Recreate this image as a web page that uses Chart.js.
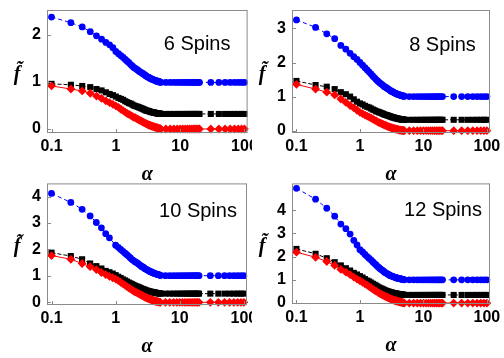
<!DOCTYPE html>
<html>
<head>
<meta charset="utf-8">
<script src="https://cdn.jsdelivr.net/npm/chart.js@4.4.1/dist/chart.umd.min.js"></script>
<style>
  body { margin: 0; background: #fff; }
  #wrap { position: relative; width: 504px; height: 358px; overflow: hidden; }
  canvas { position: absolute; }
</style>
</head>
<body>
<div id="wrap">
  <canvas id="c6" width="252" height="190" style="left:0;top:0"></canvas>
  <canvas id="c8" width="252" height="190" style="left:252px;top:0"></canvas>
  <canvas id="c10" width="252" height="179" style="left:0;top:179px"></canvas>
  <canvas id="c12" width="252" height="179" style="left:252px;top:179px"></canvas>
</div>
<script>
// alpha values (x) shared by all panels
const alpha = [0.1,0.2,0.3,0.4,0.5,0.6,0.7,0.8,0.9,
  1.0,1.1,1.2,1.3,1.4,1.5,1.6,1.7,1.8,1.9,
  2.0,2.1,2.2,2.3,2.4,2.5,2.6,2.7,2.8,2.9,
  3.0,3.1,3.2,3.3,3.4,3.5,3.6,3.7,3.8,3.9,
  4.0,4.1,4.2,4.3,4.4,4.5,4.6,4.7,4.8,4.9,5.0,
  6,7,8,9,10,11,12,13,14,15,16,17,18,19,20,
  30,40,50,60,70,80,90,100];

const xTicks = [0.1, 1, 10, 100];

// 6 spins
const blue6 = [2.38,2.26,2.17,2.07,1.98,1.91,1.84,1.79,1.73,
  1.65,1.60,1.56,1.52,1.48,1.44,1.41,1.37,1.34,1.31,
  1.29,1.27,1.25,1.23,1.21,1.20,1.18,1.17,1.15,1.14,
  1.12,1.11,1.10,1.09,1.08,1.07,1.06,1.06,1.05,1.04,
  1.04,1.03,1.02,1.02,1.02,1.01,1.01,1.00,1.00,1.00,0.99,
  0.99,0.99,0.99,0.99,0.99,0.99,0.99,0.99,0.99,0.99,0.99,0.99,0.99,0.99,0.99,
  0.99,0.99,0.99,0.99,0.99,0.99,0.99,0.99];
const black6 = [0.96,0.94,0.915,0.89,0.85,0.82,0.78,0.745,0.72,
  0.69,0.66,0.64,0.62,0.59,0.57,0.55,0.54,0.52,0.50,
  0.49,0.48,0.47,0.46,0.45,0.44,0.43,0.42,0.41,0.40,
  0.39,0.39,0.38,0.38,0.37,0.36,0.36,0.36,0.35,0.35,
  0.35,0.34,0.34,0.34,0.33,0.33,0.33,0.33,0.33,0.32,0.32,
  0.32,0.32,0.32,0.32,0.32,0.32,0.32,0.32,0.32,0.32,0.32,0.32,0.32,0.32,0.32,
  0.32,0.32,0.32,0.32,0.32,0.32,0.32,0.32];
const red6 = [0.915,0.85,0.81,0.76,0.70,0.65,0.60,0.56,0.525,
  0.49,0.46,0.42,0.39,0.36,0.33,0.31,0.29,0.27,0.25,
  0.24,0.22,0.21,0.19,0.18,0.17,0.15,0.14,0.13,0.12,
  0.11,0.10,0.09,0.08,0.08,0.07,0.06,0.06,0.05,0.05,
  0.04,0.04,0.03,0.03,0.03,0.02,0.02,0.01,0.01,0.01,0.00,
  0,0,0,0,0,0,0,0,0,0,0,0,0,0,0,
  0,0,0,0,0,0,0,0];

// 8 spins
const blue8 = [3.25,3.03,2.84,2.70,2.50,2.39,2.27,2.17,2.09,
  2.00,1.92,1.85,1.78,1.72,1.66,1.60,1.55,1.50,1.46,
  1.42,1.39,1.36,1.33,1.30,1.28,1.26,1.24,1.22,1.20,
  1.18,1.16,1.15,1.14,1.12,1.11,1.10,1.09,1.08,1.07,
  1.06,1.06,1.05,1.04,1.04,1.03,1.03,1.02,1.02,1.01,1.01,
  1.00,1.00,1.00,1.00,1.00,1.00,1.00,1.00,1.00,1.00,1.00,1.00,1.00,1.00,1.00,
  1.00,1.00,1.00,1.00,1.00,1.00,1.00,1.00];
const black8 = [1.46,1.34,1.29,1.22,1.13,1.07,1.00,0.92,0.85,
  0.80,0.77,0.73,0.70,0.68,0.65,0.62,0.60,0.57,0.56,
  0.54,0.53,0.51,0.50,0.48,0.47,0.46,0.45,0.44,0.43,
  0.42,0.41,0.40,0.39,0.39,0.38,0.37,0.37,0.36,0.36,
  0.35,0.35,0.34,0.34,0.34,0.33,0.33,0.33,0.33,0.32,0.32,
  0.32,0.32,0.32,0.32,0.32,0.32,0.32,0.32,0.32,0.32,0.32,0.32,0.32,0.32,0.32,
  0.32,0.32,0.32,0.32,0.32,0.32,0.32,0.32];
const red8 = [1.36,1.22,1.13,1.05,0.93,0.83,0.74,0.67,0.60,
  0.54,0.50,0.46,0.43,0.40,0.37,0.34,0.31,0.29,0.26,
  0.24,0.22,0.21,0.19,0.17,0.16,0.15,0.13,0.12,0.11,
  0.10,0.09,0.08,0.07,0.07,0.06,0.05,0.05,0.04,0.04,
  0.03,0.03,0.02,0.02,0.02,0.01,0.01,0.01,0.01,0.00,0.00,
  0,0,0,0,0,0,0,0,0,0,0,0,0,0,0,
  0,0,0,0,0,0,0,0];

// 10 spins
const blue10 = [4.12,3.78,3.52,3.27,3.02,2.82,2.60,2.44,null,
  2.16,2.08,2.00,1.93,1.86,1.80,1.74,1.68,1.62,1.58,
  1.54,1.51,1.48,1.44,1.41,1.37,1.35,1.33,1.29,1.27,
  1.25,1.23,1.21,1.19,1.18,1.16,1.15,1.13,1.12,1.11,
  1.10,1.09,1.08,1.07,1.07,1.05,1.05,1.04,1.04,1.03,1.02,
  1.01,1.01,1.01,1.01,1.01,1.01,1.01,1.01,1.01,1.01,1.01,1.01,1.01,1.01,1.01,
  1.01,1.01,1.01,1.01,1.01,1.01,1.01,1.01];
const black10 = [1.88,1.75,1.63,1.47,1.37,1.28,1.19,1.14,1.09,
  1.03,0.97,0.92,0.87,0.83,0.79,0.75,0.72,0.69,0.66,
  0.63,0.61,0.59,0.57,0.55,0.53,0.51,0.50,0.48,0.47,
  0.45,0.44,0.43,0.42,0.41,0.40,0.40,0.39,0.38,0.38,
  0.37,0.37,0.36,0.36,0.35,0.35,0.35,0.34,0.34,0.34,0.33,
  0.33,0.33,0.33,0.33,0.33,0.33,0.33,0.33,0.33,0.33,0.33,0.33,0.33,0.33,0.33,
  0.33,0.33,0.33,0.33,0.33,0.33,0.33,0.33];
const red10 = [1.77,1.63,1.47,1.35,1.24,1.13,1.05,0.98,0.93,
  0.88,0.82,0.76,0.70,0.65,0.60,0.55,0.51,0.47,0.43,
  0.40,0.38,0.35,0.33,0.30,0.27,0.26,0.24,0.21,0.19,
  0.18,0.16,0.15,0.13,0.12,0.11,0.10,0.09,0.08,0.07,
  0.06,0.05,0.04,0.04,0.04,0.03,0.02,0.02,0.01,0.01,0.00,
  0,0,0,0,0,0,0,0,0,0,0,0,0,0,0,
  0,0,0,0,0,0,0,0];

// 12 spins
const blue12 = [4.94,4.47,4.08,3.74,3.40,3.20,2.97,2.70,2.50,
  2.30,2.20,2.09,2.00,1.92,1.85,1.77,1.70,1.64,1.57,
  1.52,1.47,1.43,1.39,1.35,1.31,1.29,1.26,1.23,1.21,
  1.18,1.17,1.16,1.14,1.13,1.12,1.10,1.09,1.08,1.07,
  1.07,1.06,1.05,1.05,1.04,1.03,1.03,1.02,1.01,1.01,1.00,
  1.00,1.00,1.00,1.00,1.00,1.00,1.00,1.00,1.00,1.00,1.00,1.00,1.00,1.00,1.00,
  1.00,1.00,1.00,1.00,1.00,1.00,1.00,1.00];
const black12 = [2.33,2.12,1.93,1.76,1.62,1.50,1.40,1.30,1.23,
  1.16,1.10,1.03,0.97,0.93,0.88,0.83,0.79,0.75,0.71,
  0.67,0.64,0.62,0.59,0.57,0.54,0.53,0.51,0.50,0.48,
  0.46,0.46,0.45,0.44,0.43,0.42,0.42,0.41,0.40,0.40,
  0.39,0.39,0.38,0.38,0.37,0.37,0.37,0.36,0.36,0.35,0.35,
  0.35,0.35,0.35,0.35,0.35,0.35,0.35,0.35,0.35,0.35,0.35,0.35,0.35,0.35,0.35,
  0.35,0.35,0.35,0.35,0.35,0.35,0.35,0.35];
const red12 = [2.19,1.97,1.79,1.62,1.45,1.33,1.22,1.12,1.03,
  0.96,0.89,0.83,0.77,0.71,0.65,0.60,0.55,0.51,0.47,
  0.43,0.40,0.37,0.34,0.32,0.29,0.27,0.25,0.23,0.21,
  0.19,0.17,0.16,0.15,0.13,0.12,0.11,0.10,0.09,0.08,
  0.07,0.06,0.05,0.05,0.04,0.03,0.03,0.02,0.02,0.01,0.00,
  0,0,0,0,0,0,0,0,0,0,0,0,0,0,0,
  0,0,0,0,0,0,0,0];

Chart.defaults.font.family = '"Liberation Sans", Arial, sans-serif';
Chart.defaults.color = '#000';

// frame, inward ticks, panel label and axis symbols
const panelDecor = {
  id: 'panelDecor',
  afterDraw(chart, args, opts) {
    const ctx = chart.ctx, a = chart.chartArea;
    const xs = chart.scales.x, ys = chart.scales.y;
    ctx.save();
    ctx.strokeStyle = '#8a8a8a';
    ctx.lineWidth = 1;
    ctx.beginPath();
    xTicks.forEach(v => {
      const p = Math.round(xs.getPixelForValue(v)) + 0.5;
      ctx.moveTo(p, a.bottom); ctx.lineTo(p, a.bottom - 4);
    });
    opts.yTicks.forEach(v => {
      const p = Math.round(ys.getPixelForValue(v)) + 0.5;
      ctx.moveTo(a.left, p); ctx.lineTo(a.left + 4, p);
    });
    ctx.stroke();
    ctx.strokeRect(a.left + 0.5, a.top + 0.5, a.right - a.left - 1, a.bottom - a.top - 1);

    ctx.fillStyle = '#000';
    ctx.textAlign = 'center';
    ctx.textBaseline = 'middle';
    ctx.font = '20px "Liberation Sans", Arial';
    ctx.fillText(opts.label, a.right - opts.labelDx, a.top + opts.labelDy);
    ctx.font = 'italic bold 20px "Liberation Serif", serif';
    ctx.fillText('α', (a.left + a.right) / 2, a.bottom + 42);
    ctx.fillText('f\u0303', a.left - 30, (a.top + a.bottom) / 2 + 3);
    ctx.restore();
  }
};

function series(ys, color, style, radius, dash) {
  return {
    data: alpha.map((x, i) => ({ x: x, y: ys[i] })),
    showLine: true,
    spanGaps: true,
    borderColor: color,
    borderWidth: 1,
    borderDash: dash,
    pointStyle: style,
    pointRadius: radius,
    pointBackgroundColor: color,
    pointBorderWidth: 0,
    clip: false
  };
}

function makePanel(id, blue, black, red, cfg) {
  const H = document.getElementById(id).height;
  new Chart(document.getElementById(id), {
    type: 'scatter',
    data: {
      datasets: [
        series(red, '#ff0000', 'rectRot', 4.4, []),
        series(black, '#000000', 'rect', 4.3, [4, 2]),
        series(blue, '#0000ff', 'circle', 3.4, [4, 3])
      ]
    },
    options: {
      responsive: false,
      animation: false,
      events: [],
      devicePixelRatio: 1,
      layout: { padding: { left: 0, top: cfg.top, right: 252 - cfg.right, bottom: 0 } },
      plugins: {
        legend: { display: false },
        tooltip: { enabled: false },
        panelDecor: { label: cfg.label, labelDx: cfg.labelDx, labelDy: cfg.labelDy, yTicks: cfg.yTicks }
      },
      scales: {
        x: {
          type: 'logarithmic',
          min: 0.085,
          max: 112,
          afterBuildTicks: s => { s.ticks = xTicks.map(v => ({ value: v })); },
          afterFit: s => { s.height = H - cfg.bottom; s.paddingLeft = 0; s.paddingRight = 0; },
          grid: { display: false, drawTicks: false },
          border: { display: false },
          ticks: {
            color: '#000',
            font: { size: 16, weight: 'bold' },
            padding: 4,
            maxRotation: 0,
            autoSkip: false,
            callback: v => String(v)
          }
        },
        y: {
          min: cfg.yMin,
          max: cfg.yMax,
          afterBuildTicks: s => { s.ticks = cfg.yTicks.map(v => ({ value: v })); },
          afterFit: s => { s.width = cfg.left; s.paddingTop = 0; s.paddingBottom = 0; },
          grid: { display: false, drawTicks: false },
          border: { display: false },
          ticks: {
            color: '#000',
            font: { size: 16, weight: 'bold' },
            padding: 6,
            callback: v => String(v)
          }
        }
      }
    },
    plugins: [panelDecor]
  });
}

makePanel('c6', blue6, black6, red6, {
  label: '6 Spins', left: 47, right: 248, top: 10, bottom: 133,
  yMin: -0.085, yMax: 2.53, yTicks: [0, 1, 2], labelDx: 50.5, labelDy: 34
});
makePanel('c8', blue8, black8, red8, {
  label: '8 Spins', left: 40, right: 238, top: 10, bottom: 133,
  yMin: -0.067, yMax: 3.54, yTicks: [0, 1, 2, 3], labelDx: 47.5, labelDy: 35
});
makePanel('c10', blue10, black10, red10, {
  label: '10 Spins', left: 47, right: 247, top: 4, bottom: 126,
  yMin: -0.10, yMax: 4.50, yTicks: [0, 1, 2, 3, 4], labelDx: 49, labelDy: 28
});
makePanel('c12', blue12, black12, red12, {
  label: '12 Spins', left: 40, right: 238, top: 4, bottom: 125,
  yMin: -0.04, yMax: 5.15, yTicks: [0, 1, 2, 3, 4], labelDx: 47, labelDy: 27
});
</script>
</body>
</html>
